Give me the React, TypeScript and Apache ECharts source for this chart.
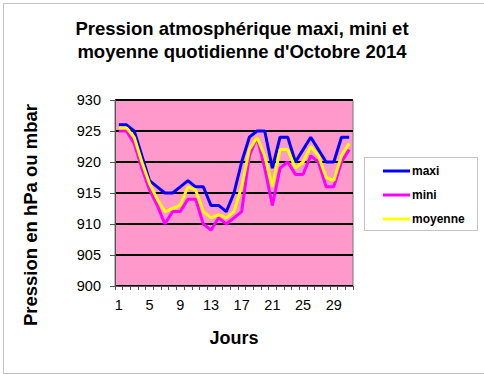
import React, { useEffect, useRef } from "react";
import * as echarts from "echarts";

const days = Array.from({ length: 31 }, (_, i) => String(i + 1));
const maxi = [926, 926, 925, 921, 917, 916, 915, 915, 916, 917, 916, 916, 913, 913, 912, 915, 920, 924, 925, 925, 919, 924, 924, 920, 922, 924, 922, 920, 920, 924, 924];
const mini = [925, 925, 923, 919, 915.5, 913, 910, 912, 912, 914, 914, 910, 909, 911, 910, 911, 912, 921, 924, 919, 913, 919, 920, 918, 918, 921, 920, 916, 916, 920, 922];
const moyenne = [925.5, 925.5, 924, 920, 916.5, 914, 912, 912.5, 913, 916, 915.5, 912, 911, 911.5, 911, 912, 916, 922, 924, 921, 916, 922, 922, 919, 920, 922.5, 921, 917.5, 917, 921, 923];

const titleText = "Pression atmosphérique maxi, mini et\nmoyenne quotidienne d'Octobre 2014";
const yName = "Pression en hPa ou mbar";
const xName = "Jours";

export default function App() {
  const ref = useRef<HTMLDivElement>(null);
  useEffect(() => {
    document.body.style.margin = "0";
    const chart = echarts.init(ref.current!, null, { renderer: "svg" });
    const font = "Liberation Sans, Arial, sans-serif";
    chart.setOption({
      animation: false,
      backgroundColor: "#ffffff",
      textStyle: { fontFamily: font },
      title: {
        text: titleText,
        left: 237,
        textAlign: "center",
        top: 12,
        textStyle: { fontSize: 18.5, fontWeight: "bold", color: "#000", lineHeight: 23, fontFamily: font },
      },
      grid: {
        left: 115,
        right: 131,
        top: 100,
        bottom: 88,
        show: true,
        backgroundColor: "#FF99CC",
        borderColor: "#777",
        borderWidth: 1,
      },
      legend: {
        orient: "vertical",
        left: 378,
        top: 159,
        icon: "rect",
        itemWidth: 27,
        itemHeight: 3,
        itemGap: 10,
        textStyle: { fontSize: 12, fontWeight: "bold", color: "#000", lineHeight: 14, fontFamily: font, padding: [0, 0, 0, -3] },
        data: ["maxi", "mini", "moyenne"],
      },
      graphic: [
        {
          type: "rect",
          left: 1,
          top: 1,
          shape: { width: 481, height: 370 },
          style: { fill: "none", stroke: "#888", lineWidth: 1, lineDash: [1, 1] },
          silent: true,
        },
        {
          type: "rect",
          left: 364,
          top: 157,
          shape: { width: 113, height: 73 },
          style: { fill: "#fff", stroke: "#888", lineWidth: 1, lineDash: [1, 1] },
          z: -1,
          silent: true,
        },
        {
          type: "text",
          x: 30,
          y: 215,
          rotation: Math.PI / 2,
          style: {
            text: yName,
            fill: "#000",
            font: "bold 18.5px Liberation Sans, Arial, sans-serif",
            align: "center",
            verticalAlign: "middle",
          },
        },
      ],
      xAxis: {
        type: "category",
        data: days,
        boundaryGap: true,
        name: xName,
        nameLocation: "middle",
        nameGap: 43,
        nameTextStyle: { fontSize: 18, fontWeight: "bold", color: "#000", fontFamily: font },
        axisLine: { lineStyle: { color: "#555", width: 1 } },
        axisTick: { show: true, interval: 0, length: 4, lineStyle: { color: "#555" } },
        axisLabel: { interval: 3, fontSize: 14.5, color: "#000", margin: 11, fontFamily: font },
        splitLine: { show: false },
      },
      yAxis: {
        type: "value",
        min: 900,
        max: 930,
        interval: 5,
        axisLine: { show: true, lineStyle: { color: "#555", width: 1 } },
        axisTick: { show: true, length: 5, lineStyle: { color: "#555" } },
        axisLabel: { fontSize: 14.5, color: "#000", margin: 14, fontFamily: font },
        splitLine: { show: true, lineStyle: { color: "#000", width: 2 } },
      },
      series: [
        { name: "maxi", type: "line", data: maxi, showSymbol: false, symbol: "none", lineStyle: { color: "#0000FF", width: 3 }, itemStyle: { color: "#0000FF" } },
        { name: "mini", type: "line", data: mini, showSymbol: false, symbol: "none", lineStyle: { color: "#FF00FF", width: 3 }, itemStyle: { color: "#FF00FF" } },
        { name: "moyenne", type: "line", data: moyenne, showSymbol: false, symbol: "none", lineStyle: { color: "#FFFF00", width: 3 }, itemStyle: { color: "#FFFF00" } },
      ],
    });
    return () => chart.dispose();
  }, []);
  return <div ref={ref} style={{ width: 484, height: 374 }} />;
}
